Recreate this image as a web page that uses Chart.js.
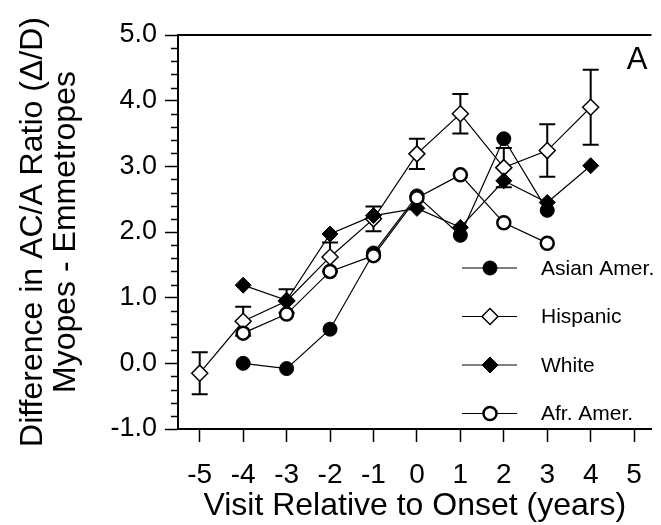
<!DOCTYPE html>
<html>
<head>
<meta charset="utf-8">
<script src="https://cdn.jsdelivr.net/npm/chart.js@4/dist/chart.umd.min.js"></script>
<style>
  html, body { margin: 0; padding: 0; background: #fff; overflow: hidden; }
  #wrap { width: 661px; height: 525px; }
</style>
</head>
<body>
<div id="wrap"><canvas id="acaChart" width="661" height="525"></canvas></div>
<script>
// values (panel A)
const visitTicks = [-5, -4, -3, -2, -1, 0, 1, 2, 3, 4, 5];
const yTicks = [-1, 0, 1, 2, 3, 4, 5];

const asianVisits = [-4, -3, -2, -1, 0, 1, 2, 3];
const asianValues = [0.0, -0.08, 0.52, 1.68, 2.55, 1.95, 3.42, 2.33];

const hispanicVisits = [-5, -4, -3, -2, -1, 0, 1, 2, 3, 4];
const hispanicValues = [-0.15, 0.64, 0.95, 1.62, 2.2, 3.19, 3.8, 2.98, 3.24, 3.9];
const hispanicErr = [0.32, 0.22, 0.18, 0.22, 0.19, 0.23, 0.3, 0.3, 0.4, 0.57];

const whiteVisits = [-4, -3, -2, -1, 0, 1, 2, 3, 4];
const whiteValues = [1.19, 0.96, 1.97, 2.25, 2.36, 2.07, 2.78, 2.45, 3.01];

const afrVisits = [-4, -3, -2, -1, 0, 1, 2, 3];
const afrValues = [0.46, 0.75, 1.4, 1.64, 2.52, 2.87, 2.14, 1.83];

const groupLabels = ['Asian Amer.', 'Hispanic', 'White', 'Afr. Amer.'];

const fontFamily = "'Liberation Sans', Arial, sans-serif";
const toPoints = (xs, ys) => xs.map((v, i) => ({ x: v, y: ys[i] }));

const markerPath = (ctx, style, cx, cy, r) => {
    ctx.beginPath();
    if (style === 'circle') {
        ctx.arc(cx, cy, r, 0, Math.PI * 2);
    } else {
        ctx.moveTo(cx, cy - r);
        ctx.lineTo(cx + r, cy);
        ctx.lineTo(cx, cy + r);
        ctx.lineTo(cx - r, cy);
        ctx.closePath();
    }
};

const figureExtras = {
    id: 'figureExtras',
    beforeDatasetsDraw(chart) {
        // SEM bars, Hispanic group only
        const { ctx, scales: { x, y } } = chart;
        ctx.save();
        ctx.strokeStyle = '#000';
        ctx.lineWidth = 2;
        hispanicVisits.forEach((v, i) => {
            const px = x.getPixelForValue(v);
            const top = y.getPixelForValue(hispanicValues[i] + hispanicErr[i]);
            const bot = y.getPixelForValue(hispanicValues[i] - hispanicErr[i]);
            ctx.beginPath();
            ctx.moveTo(px, top); ctx.lineTo(px, bot);
            ctx.moveTo(px - 8, top); ctx.lineTo(px + 8, top);
            ctx.moveTo(px - 8, bot); ctx.lineTo(px + 8, bot);
            ctx.stroke();
        });
        ctx.restore();
    },
    afterDraw(chart) {
        const { ctx, chartArea, scales: { y } } = chart;
        ctx.save();
        ctx.strokeStyle = '#000';

        // top frame line
        ctx.lineWidth = 2;
        ctx.beginPath();
        ctx.moveTo(chartArea.left, chartArea.top);
        ctx.lineTo(chartArea.right, chartArea.top);
        ctx.stroke();

        // minor ticks on y (0.2 steps)
        ctx.lineWidth = 1.5;
        for (let k = 1; k < 30; k++) {
            if (k % 5 === 0) continue;
            const py = Math.round(y.getPixelForValue(y.min + k * 0.2)) + 0.5;
            ctx.beginPath();
            ctx.moveTo(chartArea.left - 7, py);
            ctx.lineTo(chartArea.left, py);
            ctx.stroke();
        }

        // panel letter
        ctx.fillStyle = '#000';
        ctx.font = `31px ${fontFamily}`;
        ctx.textAlign = 'center';
        ctx.textBaseline = 'middle';
        ctx.fillText('A', 637, 60);

        // legend
        ctx.font = `21px ${fontFamily}`;
        ctx.textAlign = 'left';
        chart.data.datasets.forEach((ds, i) => {
            const ry = 268 + i * 48.5;
            ctx.lineWidth = 1.2;
            ctx.strokeStyle = '#000';
            ctx.beginPath();
            ctx.moveTo(462, ry);
            ctx.lineTo(517, ry);
            ctx.stroke();
            markerPath(ctx, ds.pointStyle === 'circle' ? 'circle' : 'diamond', 490, ry, ds.pointRadius);
            ctx.fillStyle = ds.pointBackgroundColor;
            ctx.fill();
            ctx.lineWidth = ds.pointBorderWidth;
            ctx.stroke();
            ctx.fillStyle = '#000';
            ctx.fillText(groupLabels[i], 541, ry + 1);
        });
        ctx.restore();
    }
};

const lineSet = (label, data, style, fill, radius, bw, order) => ({
    label,
    data,
    showLine: true,
    borderColor: '#000',
    borderWidth: 1.2,
    pointStyle: style,
    pointRadius: radius,
    pointBackgroundColor: fill,
    pointBorderColor: '#000',
    pointBorderWidth: bw,
    order,
    clip: false
});

new Chart(document.getElementById('acaChart'), {
    type: 'scatter',
    data: {
        datasets: [
            lineSet(groupLabels[0], toPoints(asianVisits, asianValues), 'circle', '#000', 7, 1, 4),
            lineSet(groupLabels[1], toPoints(hispanicVisits, hispanicValues), 'rectRot', '#fff', 8, 1.5, 3),
            lineSet(groupLabels[2], toPoints(whiteVisits, whiteValues), 'rectRot', '#000', 8, 1, 2),
            lineSet(groupLabels[3], toPoints(afrVisits, afrValues), 'circle', '#fff', 6.5, 2.5, 1)
        ]
    },
    options: {
        responsive: false,
        devicePixelRatio: 1,
        animation: false,
        layout: { padding: { top: 35, right: 0, left: 0, bottom: 0 } },
        plugins: { legend: { display: false }, tooltip: { enabled: false } },
        scales: {
            x: {
                type: 'linear',
                min: -5.5,
                max: 5.4,
                afterBuildTicks: axis => { axis.ticks = visitTicks.map(v => ({ value: v })); },
                afterFit: axis => { axis.height = 96; },
                grid: { drawOnChartArea: false, drawTicks: true, tickLength: 13, tickColor: '#000', tickWidth: 1.5 },
                border: { color: '#000', width: 2 },
                ticks: { color: '#000', font: { family: fontFamily, size: 28 }, padding: 16, maxRotation: 0, callback: v => String(v) },
                title: { display: true, text: 'Visit Relative to Onset (years)', color: '#000', font: { family: fontFamily, size: 32, lineHeight: 1.0 }, padding: { top: 0, bottom: 3 } }
            },
            y: {
                type: 'linear',
                min: -1,
                max: 5,
                afterBuildTicks: axis => { axis.ticks = yTicks.map(v => ({ value: v })); },
                afterFit: axis => { axis.width = 178; },
                grid: { drawOnChartArea: false, drawTicks: true, tickLength: 13, tickColor: '#000', tickWidth: 1.5 },
                border: { color: '#000', width: 2 },
                ticks: { color: '#000', font: { family: fontFamily, size: 27 }, padding: 8, callback: v => v.toFixed(1) },
                title: {
                    display: true,
                    text: ['Difference in AC/A Ratio (\u0394/D)', 'Myopes - Emmetropes'],
                    color: '#000',
                    font: { family: fontFamily, size: 32, lineHeight: 1.05 },
                    padding: { top: 16, bottom: 0 }
                }
            }
        }
    },
    plugins: [figureExtras]
});
</script>
</body>
</html>
